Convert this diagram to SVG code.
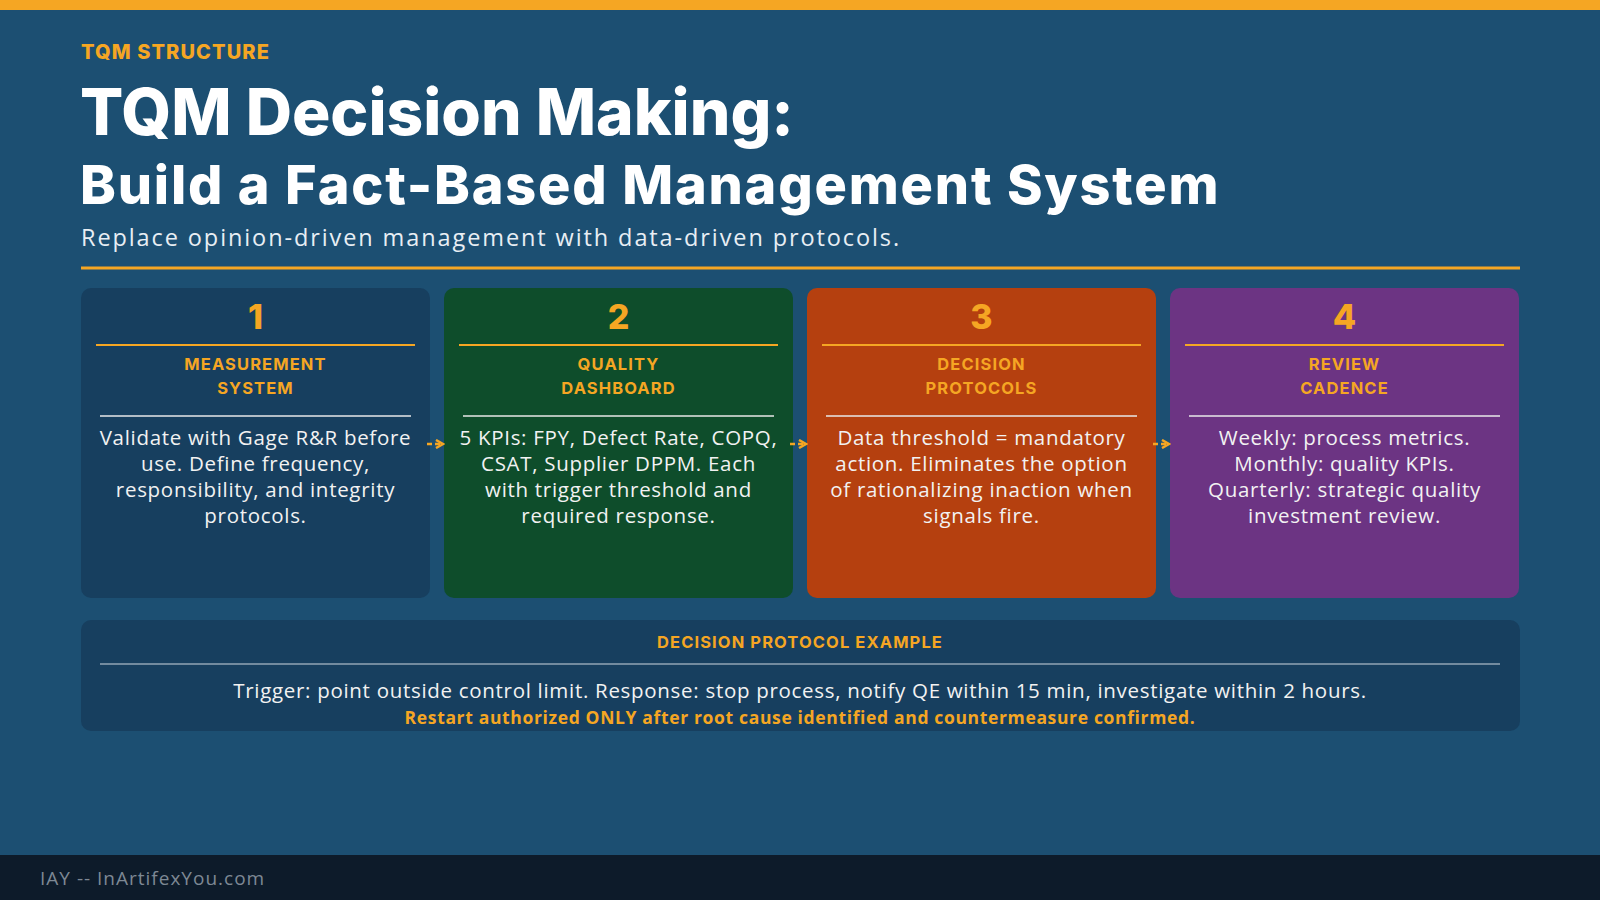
<svg xmlns="http://www.w3.org/2000/svg" width="1600" height="900" viewBox="0 0 1600 900">
<style>
.h{font-family:Inter,"Open Sans",sans-serif;font-weight:800;fill:#fff}
.b{font-family:"Open Sans",Lato,sans-serif;font-size:20.5px;fill:#f2f2f2;text-anchor:middle;letter-spacing:0.7px}
.num{font-family:Inter,"Open Sans",sans-serif;font-weight:800;font-size:34px;fill:#f5a623;text-anchor:middle}
.lab{font-family:Inter,"Open Sans",sans-serif;font-weight:700;font-size:16.5px;fill:#f5a623;text-anchor:middle;letter-spacing:1.1px}
.r1{stroke:#f5a623;stroke-width:2}
.r2{stroke:#e8e8e8;stroke-width:1.5}
.ar{stroke:#f5a623;stroke-width:2.5;stroke-dasharray:5 3;fill:none}
</style>
<defs><marker id="m" viewBox="0 0 10 10" refX="8" refY="5" markerWidth="4" markerHeight="4" orient="auto"><path d="M1 1L8 5L1 9" fill="none" stroke="#f5a623" stroke-width="2.5"/></marker></defs>
<rect width="1600" height="900" fill="#1c4f72"/>
<rect width="1600" height="10" fill="#f5a623"/>
<text x="81" y="59" class="h" font-size="20" letter-spacing="1.1" style="fill:#f5a623">TQM STRUCTURE</text>
<text x="80" y="135" class="h" font-size="64">TQM Decision Making:</text>
<text x="80" y="204" class="h" font-size="54" letter-spacing="1.8">Build a Fact-Based Management System</text>
<text x="81" y="246" font-family="'Open Sans',Lato,sans-serif" font-size="23.5" letter-spacing="1.9" fill="#e8eef4">Replace opinion-driven management with data-driven protocols.</text>
<rect x="81" y="266.5" width="1439" height="3" fill="#f5a623"/>
<g id="node1"><rect x="81" y="288" width="349" height="310" rx="10" fill="#173f5f"/><text x="255.5" y="329" class="num">1</text><line x1="96" y1="345" x2="415" y2="345" class="r1"/><text x="255.5" y="370" class="lab">MEASUREMENT</text><text x="255.5" y="394" class="lab">SYSTEM</text><line x1="100" y1="416" x2="411" y2="416" class="r2"/><text class="b"><tspan x="255.5" y="445">Validate with Gage R&amp;R before</tspan><tspan x="255.5" y="471">use. Define frequency,</tspan><tspan x="255.5" y="497">responsibility, and integrity</tspan><tspan x="255.5" y="523">protocols.</tspan></text></g>
<g id="node2"><rect x="444" y="288" width="349" height="310" rx="10" fill="#0e4d2b"/><text x="618.5" y="329" class="num">2</text><line x1="459" y1="345" x2="778" y2="345" class="r1"/><text x="618.5" y="370" class="lab">QUALITY</text><text x="618.5" y="394" class="lab">DASHBOARD</text><line x1="463" y1="416" x2="774" y2="416" class="r2"/><text class="b"><tspan x="618.5" y="445">5 KPIs: FPY, Defect Rate, COPQ,</tspan><tspan x="618.5" y="471">CSAT, Supplier DPPM. Each</tspan><tspan x="618.5" y="497">with trigger threshold and</tspan><tspan x="618.5" y="523">required response.</tspan></text></g>
<g id="node3"><rect x="807" y="288" width="349" height="310" rx="10" fill="#b5400f"/><text x="981.5" y="329" class="num">3</text><line x1="822" y1="345" x2="1141" y2="345" class="r1"/><text x="981.5" y="370" class="lab">DECISION</text><text x="981.5" y="394" class="lab">PROTOCOLS</text><line x1="826" y1="416" x2="1137" y2="416" class="r2"/><text class="b"><tspan x="981.5" y="445">Data threshold = mandatory</tspan><tspan x="981.5" y="471">action. Eliminates the option</tspan><tspan x="981.5" y="497">of rationalizing inaction when</tspan><tspan x="981.5" y="523">signals fire.</tspan></text></g>
<g id="node4"><rect x="1170" y="288" width="349" height="310" rx="10" fill="#6c3483"/><text x="1344.5" y="329" class="num">4</text><line x1="1185" y1="345" x2="1504" y2="345" class="r1"/><text x="1344.5" y="370" class="lab">REVIEW</text><text x="1344.5" y="394" class="lab">CADENCE</text><line x1="1189" y1="416" x2="1500" y2="416" class="r2"/><text class="b"><tspan x="1344.5" y="445">Weekly: process metrics.</tspan><tspan x="1344.5" y="471">Monthly: quality KPIs.</tspan><tspan x="1344.5" y="497">Quarterly: strategic quality</tspan><tspan x="1344.5" y="523">investment review.</tspan></text></g>
<g id="connectors"><path d="M427 444H443" class="ar" marker-end="url(#m)"/><path d="M790 444H806" class="ar" marker-end="url(#m)"/><path d="M1153 444H1169" class="ar" marker-end="url(#m)"/></g>
<g id="example"><rect x="81" y="620" width="1439" height="111" rx="10" fill="#173f5f"/><text x="800" y="648" class="lab">DECISION PROTOCOL EXAMPLE</text><line x1="100" y1="664" x2="1500" y2="664" stroke="#cfd8e0" stroke-width="1"/><text x="800" y="698" class="b" letter-spacing="0.78">Trigger: point outside control limit. Response: stop process, notify QE within 15 min, investigate within 2 hours.</text><text x="800" y="724" font-family="'Open Sans',sans-serif" font-weight="700" font-size="17.5" letter-spacing="0.65" fill="#f5a623" text-anchor="middle">Restart authorized ONLY after root cause identified and countermeasure confirmed.</text></g>
<rect y="855" width="1600" height="45" fill="#0d1b2a"/>
<text x="40" y="885" font-family="'Open Sans',sans-serif" font-size="19" letter-spacing="1" fill="#7d8894">IAY -- InArtifexYou.com</text>
</svg>
